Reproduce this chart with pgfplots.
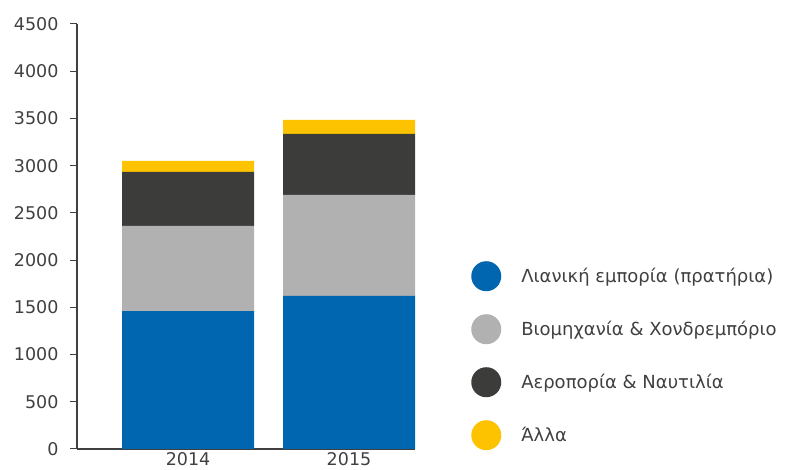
\documentclass[border=0pt]{standalone}
\usepackage{fontspec}
\setmainfont{DejaVu Sans}
\usepackage{pgfplots}
\pgfplotsset{compat=1.18}
\definecolor{cblue}{HTML}{0066B0}
\definecolor{cgray}{HTML}{B1B1B1}
\definecolor{cdark}{HTML}{3C3C3B}
\definecolor{cyellow}{HTML}{FDC300}
\definecolor{axisgray}{HTML}{404040}

\begin{document}
\begin{tikzpicture}[x=1pt,y=1pt]
\useasboundingbox (0,0) rectangle (788,470);
\begin{axis}[
  at={(77pt,21pt)}, anchor=south west,
  width=338pt, height=425pt, scale only axis,
  ybar stacked, bar width=132pt,
  xmin=-0.69, xmax=1.41, ymin=0, ymax=4500,
  xtick={0,1}, xticklabels={2014,2015},
  ytick={0,500,...,4500},
  axis lines*=left,
  axis line style={axisgray, line width=1.2pt},
  tick align=outside, major tick length=7pt,
  tick style={axisgray, line width=1pt},
  major x tick style={draw=none},
  /pgf/number format/assume math mode=true,
  /pgf/number format/1000 sep={},
  ticklabel style={font=\fontsize{17.5}{19}\selectfont, text=axisgray},
  yticklabel style={xshift=-8pt},
  xticklabel style={yshift=5pt, inner sep=1pt},
  legend style={at={(1.157,0.447)}, anchor=north west, draw=none, fill=none,
    font=\fontsize{18}{20}\selectfont, text=axisgray,
    row sep=23pt, column sep=20pt, nodes={inner sep=0pt}},
  legend cell align=left,
  legend image code/.code={\fill (0pt,0pt) circle (15pt);},
]
\addplot[fill=cblue, draw=none] coordinates {(0,1460) (1,1620)};
\addlegendentry{Λιανική εμπορία (πρατήρια)}
\addplot[fill=cgray, draw=none] coordinates {(0,902) (1,1070)};
\addlegendentry{Βιομηχανία \& Χονδρεμπόριο}
\addplot[fill=cdark, draw=none] coordinates {(0,572) (1,646)};
\addlegendentry{Αεροπορία \& Ναυτιλία}
\addplot[fill=cyellow, draw=none] coordinates {(0,116) (1,148)};
\addlegendentry{Άλλα}
\end{axis}
\end{tikzpicture}
\end{document}
